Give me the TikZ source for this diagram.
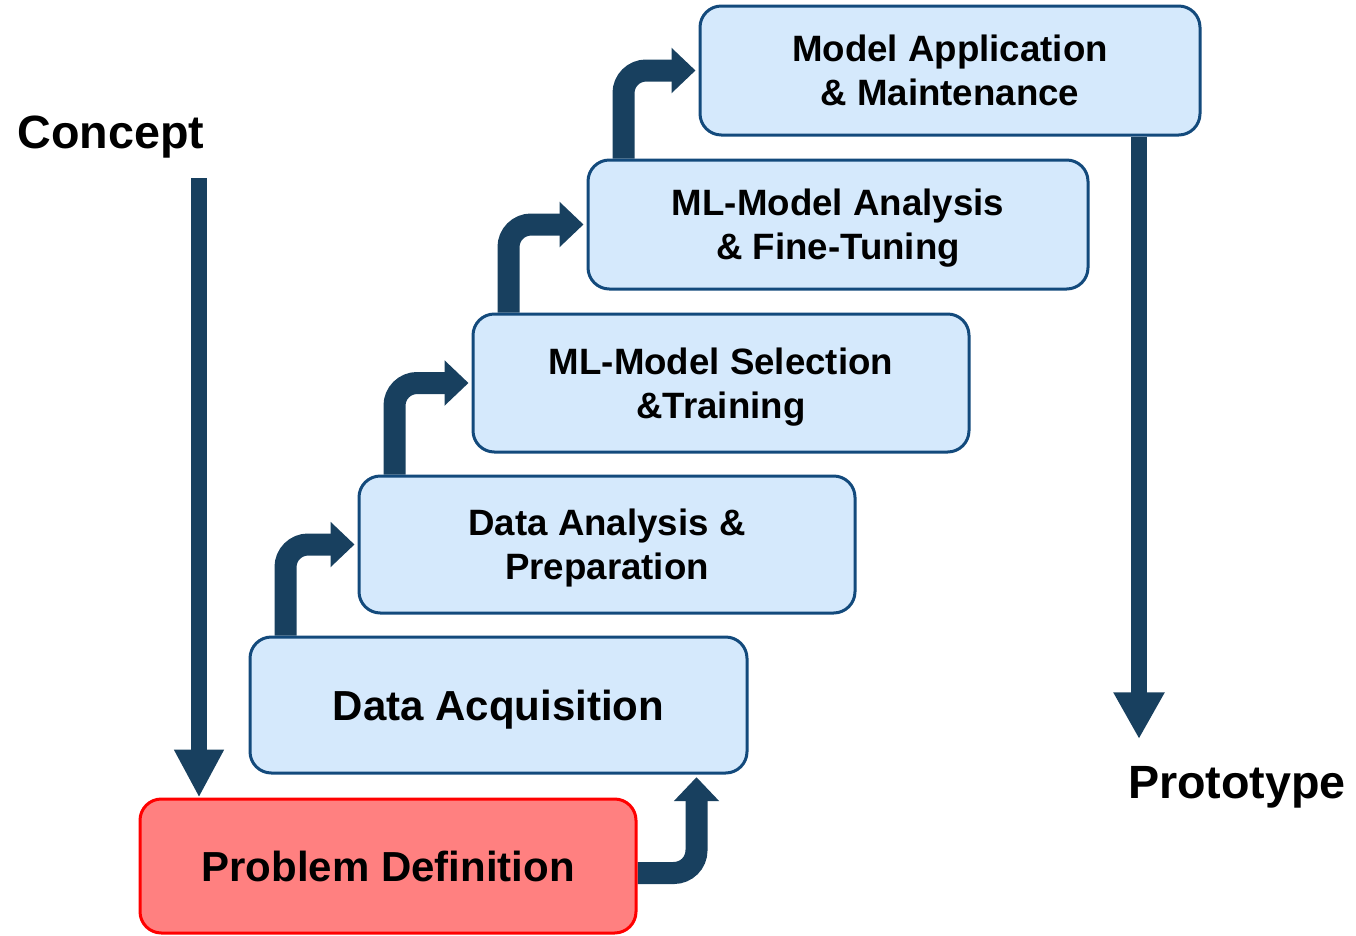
\documentclass[tikz,border=0pt]{standalone}
\usepackage{fontspec}
\setmainfont{Liberation Sans}
\usetikzlibrary{arrows.meta, backgrounds}
\definecolor{wfInk}{HTML}{18405F}
\definecolor{wfEdge}{HTML}{134A7C}
\definecolor{wfFill}{HTML}{D5E9FC}
\definecolor{wfRed}{HTML}{FF0000}
\definecolor{wfRose}{HTML}{FF8080}

\tikzset{
  stage/.style={draw=wfEdge, fill=wfFill, line width=2.25pt, rounded corners=16pt,
    align=center, inner sep=0pt, text depth=0pt, font=\fontsize{27.5}{33}\selectfont\bfseries},
  bigstage/.style={stage, font=\fontsize{31.5}{38}\selectfont\bfseries},
  bentarrow/.style={draw=wfInk, line width=16.5pt, rounded corners=17pt,
    -{Triangle[width=33pt, length=18pt]}},
  flowarrow/.style={draw=wfInk, line width=12pt, -{Triangle[width=35pt, length=36pt]}},
  sidelabel/.style={text depth=0pt, font=\fontsize{35}{42}\selectfont\bfseries}
}

\begin{document}
\begin{tikzpicture}[x=0.75pt, y=-0.75pt]
  \useasboundingbox (0,0) rectangle (1356,935);
  % stages, from the bottom step up
  \node[bigstage, draw=wfRed, fill=wfRose, minimum width=372pt, minimum height=100.5pt]
    (prob) at (388,866) {Problem Definition};
  \node[bigstage, minimum width=372.75pt, minimum height=102pt]
    (acq) at (498.5,705) {Data Acquisition};
  \node[stage, minimum width=372pt, minimum height=102.75pt]
    (prep) at (607,544.5) {Data Analysis \&\\Preparation};
  \node[stage, minimum width=372pt, minimum height=103.5pt]
    (sel) at (721,383) {ML-Model Selection\\\&Training};
  \node[stage, minimum width=375pt, minimum height=96.75pt]
    (tune) at (838,224.5) {ML-Model Analysis\\\& Fine-Tuning};
  \node[stage, minimum width=375pt, minimum height=96.75pt]
    (app) at (950,70.5) {Model Application\\\& Maintenance};

  \node[sidelabel] (concept) at (111,132) {Concept};
  \node[sidelabel] (proto) at (1237,782) {Prototype};
  \coordinate (cTop) at (199,178);
  \coordinate (pTip) at (1139,739);

  \begin{scope}[on background layer]
    \draw[bentarrow, shorten >=2pt] ([yshift=-5.25pt]prob.east) -| ([xshift=-39pt]acq.south east);
    \foreach \lo/\hi in {acq/prep, prep/sel, sel/tune, tune/app}
      \draw[bentarrow, shorten >=2.25pt] ([xshift=27.75pt]\lo.north west) |- (\hi.west);
    \draw[flowarrow] (cTop) -- (cTop |- prob.north);
    \draw[flowarrow, -{Triangle[width=36pt, length=35pt]}] (app.south -| pTip) -- (pTip);
  \end{scope}
\end{tikzpicture}
\end{document}
